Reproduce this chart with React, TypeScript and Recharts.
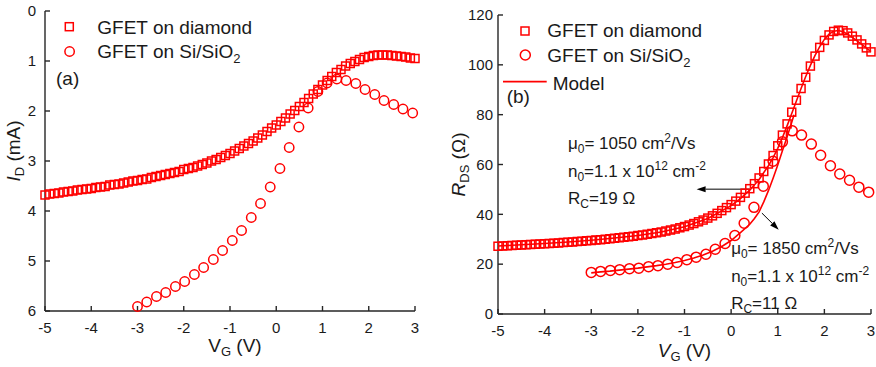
import React from 'react';
import { ScatterChart, Scatter, XAxis, YAxis, ReferenceLine, ReferenceDot, Legend } from 'recharts';

const RED = '#ff0000';
const AX = '#262626';
const TXT = '#1a1a1a';
const FONT = '"Liberation Sans", Arial, Helvetica, sans-serif';

// ---------- data ----------
const xTicks = [-5, -4, -3, -2, -1, 0, 1, 2, 3];
const idTicks = [0, 1, 2, 3, 4, 5, 6];
const rdsTicks = [0, 20, 40, 60, 80, 100, 120];

const seriesDiamond = 'GFET on diamond';
const seriesSi = 'GFET on Si/SiO';
const seriesModel = 'Model';

const vgDiamond = [
  -5.0, -4.9, -4.8, -4.7, -4.6, -4.5, -4.4, -4.3, -4.2, -4.1,
  -4.0, -3.9, -3.8, -3.7, -3.6, -3.5, -3.4, -3.3, -3.2, -3.1,
  -3.0, -2.9, -2.8, -2.7, -2.6, -2.5, -2.4, -2.3, -2.2, -2.1,
  -2.0, -1.9, -1.8, -1.7, -1.6, -1.5, -1.4, -1.3, -1.2, -1.1,
  -1.0, -0.9, -0.8, -0.7, -0.6, -0.5, -0.4, -0.3, -0.2, -0.1,
  0.0, 0.1, 0.2, 0.3, 0.4, 0.5, 0.6, 0.7, 0.8, 0.9,
  1.0, 1.1, 1.2, 1.3, 1.4, 1.5, 1.6, 1.7, 1.8, 1.9,
  2.0, 2.1, 2.2, 2.3, 2.4, 2.5, 2.6, 2.7, 2.8, 2.9, 3.0,
];

const idDiamond = [
  3.68, 3.66, 3.65, 3.64, 3.62, 3.61, 3.6, 3.58, 3.57, 3.56,
  3.55, 3.53, 3.52, 3.51, 3.48, 3.47, 3.46, 3.44, 3.42, 3.4,
  3.39, 3.37, 3.36, 3.33, 3.31, 3.29, 3.27, 3.25, 3.23, 3.21,
  3.17, 3.15, 3.13, 3.1, 3.07, 3.04, 3.0, 2.97, 2.93, 2.89,
  2.85, 2.8, 2.75, 2.7, 2.65, 2.6, 2.54, 2.48, 2.41, 2.34,
  2.28, 2.21, 2.14, 2.06, 1.99, 1.91, 1.83, 1.75, 1.66, 1.57,
  1.48, 1.39, 1.31, 1.23, 1.17, 1.1, 1.05, 1.01, 0.97, 0.93,
  0.91, 0.89, 0.88, 0.88, 0.88, 0.89, 0.9, 0.91, 0.92, 0.94, 0.95,
];

const rdsDiamond = [
  27.2, 27.3, 27.4, 27.5, 27.6, 27.7, 27.8, 27.9, 28.0, 28.1,
  28.2, 28.3, 28.4, 28.5, 28.7, 28.8, 28.9, 29.1, 29.2, 29.4,
  29.5, 29.7, 29.8, 30.0, 30.2, 30.4, 30.6, 30.8, 31.0, 31.2,
  31.5, 31.7, 32.0, 32.3, 32.6, 32.9, 33.3, 33.7, 34.1, 34.6,
  35.1, 35.7, 36.3, 37.0, 37.7, 38.5, 39.4, 40.4, 41.5, 42.7,
  43.9, 45.3, 46.8, 48.5, 50.3, 52.3, 54.6, 57.2, 60.2, 63.6,
  67.5, 71.8, 76.3, 81.0, 85.8, 90.5, 95.0, 99.5, 103.5, 107.0,
  109.8, 112.0, 113.4, 113.9, 113.7, 112.8, 111.5, 110.0, 108.4, 106.8, 105.2,
];

const vgSi = [
  -3.0, -2.8, -2.59, -2.39, -2.18, -1.98, -1.77, -1.57, -1.36, -1.16,
  -0.95, -0.75, -0.54, -0.34, -0.13, 0.08, 0.28, 0.49, 0.69, 0.9,
  1.1, 1.31, 1.51, 1.72, 1.92, 2.13, 2.33, 2.54, 2.74, 2.95,
];

const idSi = [
  5.91, 5.82, 5.71, 5.63, 5.51, 5.41, 5.27, 5.13, 4.97, 4.79,
  4.59, 4.39, 4.13, 3.85, 3.52, 3.15, 2.73, 2.32, 1.94, 1.61,
  1.44, 1.36, 1.39, 1.45, 1.57, 1.67, 1.79, 1.87, 1.96, 2.04,
];

const rdsSi = [
  16.7, 17.1, 17.5, 17.8, 18.2, 18.4, 19.0, 19.4, 20.0, 20.7,
  21.8, 22.8, 24.0, 26.0, 28.3, 31.5, 36.4, 42.8, 51.3, 61.3,
  69.1, 73.5, 71.8, 68.2, 63.7, 59.5, 56.2, 53.7, 50.9, 48.9,
];

const vgModelDiamond = [
  -5.0, -4.5, -4.0, -3.5, -3.0, -2.5, -2.0, -1.5, -1.0, -0.5,
  0.0, 0.2, 0.4, 0.6, 0.8, 0.9, 1.0, 1.1, 1.2, 1.3,
  1.4, 1.5, 1.6, 1.7, 1.8, 1.9, 2.0, 2.1, 2.2, 2.3,
  2.4, 2.5, 2.6, 2.8, 3.0,
];
const rdsModelDiamond = [
  27.3, 27.8, 28.3, 28.9, 29.6, 30.5, 31.5, 32.9, 35.0, 38.3,
  43.5, 46.3, 49.7, 54.0, 59.5, 62.8, 66.5, 70.8, 75.5, 80.5,
  85.5, 90.5, 95.3, 99.8, 103.8, 107.3, 110.2, 112.3, 113.5, 113.8,
  113.3, 112.3, 111.0, 108.2, 105.3,
];

const vgModelSi = [
  -3.0, -2.8, -2.6, -2.4, -2.2, -2.0, -1.8, -1.6, -1.4, -1.2,
  -1.0, -0.8, -0.6, -0.4, -0.2, 0.0, 0.2, 0.4, 0.5, 0.6,
  0.7, 0.8, 0.9, 1.0, 1.1, 1.2, 1.3, 1.35,
];
const rdsModelSi = [
  16.5, 16.9, 17.2, 17.6, 18.0, 18.4, 18.9, 19.4, 20.0, 20.7,
  21.5, 22.5, 23.7, 25.2, 27.1, 29.5, 32.7, 36.0, 38.3, 41.0,
  45.0, 49.5, 54.5, 59.8, 65.5, 71.0, 77.0, 80.0,
];

const zip = (xs: number[], ys: number[]) => xs.map((x, i) => ({ x, y: ys[i] }));
const dataA_d = zip(vgDiamond, idDiamond);
const dataA_s = zip(vgSi, idSi);
const dataB_d = zip(vgDiamond, rdsDiamond);
const dataB_s = zip(vgSi, rdsSi);
const dataB_md = zip(vgModelDiamond, rdsModelDiamond);
const dataB_ms = zip(vgModelSi, rdsModelSi);

// ---------- marks ----------
const SquareMark = (p: any) =>
  p.cx == null ? <g /> : (
    <rect x={p.cx - 4} y={p.cy - 4} width={8} height={8} fill="none" stroke={RED} strokeWidth={1.5} />
  );
const circleMark = (r: number) => (p: any) =>
  p.cx == null ? <g /> : <circle cx={p.cx} cy={p.cy} r={r} fill="none" stroke={RED} strokeWidth={1.5} />;
const NoMark = () => <g />;

const arrowShape = (p: any) => {
  const { x1, y1, x2, y2 } = p;
  if ([x1, y1, x2, y2].some((v) => v == null || isNaN(v))) return <g />;
  const a = Math.atan2(y2 - y1, x2 - x1);
  const L = 9;
  const W = 3;
  const bx = x2 - L * Math.cos(a);
  const by = y2 - L * Math.sin(a);
  const px = W * Math.sin(a);
  const py = -W * Math.cos(a);
  return (
    <g>
      <line x1={x1} y1={y1} x2={bx} y2={by} stroke="#000" strokeWidth={1} />
      <polygon points={`${x2},${y2} ${bx + px},${by + py} ${bx - px},${by - py}`} fill="#000" />
    </g>
  );
};

const tickStyle = { fill: TXT, fontSize: 15, fontFamily: FONT };
const axLine = { stroke: AX, strokeWidth: 1.4 };
const LEG_FS = 19;

// ---------- legends ----------
const LegendA = () => (
  <svg width={400} height={100} style={{ display: 'block', overflow: 'visible' }} fontFamily={FONT}>
    <rect x={65.3} y={22.7} width={8} height={8} fill="none" stroke={RED} strokeWidth={1.5} />
    <text x={97.3} y={34} fontSize={LEG_FS} fill={TXT}>{seriesDiamond}</text>
    <circle cx={69.6} cy={51.5} r={4.7} fill="none" stroke={RED} strokeWidth={1.5} />
    <text x={97.3} y={58.3} fontSize={LEG_FS} fill={TXT}>
      {seriesSi}
      <tspan dy={5} fontSize={13}>2</tspan>
    </text>
    <text x={56} y={85} fontSize={LEG_FS} fill={TXT}>(a)</text>
  </svg>
);

const LegendB = () => (
  <svg width={400} height={110} style={{ display: 'block', overflow: 'visible' }} fontFamily={FONT}>
    <rect x={81} y={27} width={8} height={8} fill="none" stroke={RED} strokeWidth={1.5} />
    <text x={107.3} y={37.3} fontSize={LEG_FS} fill={TXT}>{seriesDiamond}</text>
    <circle cx={85.3} cy={55} r={5} fill="none" stroke={RED} strokeWidth={1.5} />
    <text x={107.3} y={61.7} fontSize={LEG_FS} fill={TXT}>
      {seriesSi}
      <tspan dy={5} fontSize={13}>2</tspan>
    </text>
    <line x1={63} y1={81.7} x2={106.7} y2={81.7} stroke={RED} strokeWidth={1.8} />
    <text x={112.7} y={90} fontSize={LEG_FS} fill={TXT}>{seriesModel}</text>
    <text x={66.7} y={103} fontSize={LEG_FS} fill={TXT}>(b)</text>
  </svg>
);

// ---------- annotation blocks ----------
const AnnotBlock = ({ cx, cy, mu, rc }: any) => {
  if (cx == null || cy == null) return <g />;
  const fs = 17;
  const ss = 12;
  return (
    <g fontFamily={FONT} fontSize={fs} fill={TXT}>
      <text x={cx} y={cy}>
        μ<tspan dy={4} fontSize={ss}>0</tspan>
        <tspan dy={-4}>= {mu} cm</tspan>
        <tspan dy={-7} fontSize={ss}>2</tspan>
        <tspan dy={7}>/Vs</tspan>
      </text>
      <text x={cx} y={cy + 28}>
        n<tspan dy={4} fontSize={ss}>0</tspan>
        <tspan dy={-4}>=1.1 x 10</tspan>
        <tspan dy={-7} fontSize={ss}>12</tspan>
        <tspan dy={7}> cm</tspan>
        <tspan dy={-7} fontSize={ss}>-2</tspan>
      </text>
      <text x={cx} y={cy + 55}>
        R<tspan dy={4} fontSize={ss}>C</tspan>
        <tspan dy={-4}>={rc} Ω</tspan>
      </text>
    </g>
  );
};

// ---------- panels ----------
const PanelA = () => (
  <ScatterChart width={440} height={367} margin={{ top: 11, right: 25, bottom: 16, left: 0 }}>
    <XAxis
      type="number"
      dataKey="x"
      domain={[-5, 3]}
      ticks={xTicks}
      interval={0}
      height={40}
      tickSize={-5}
      tickMargin={16}
      tick={tickStyle}
      axisLine={axLine}
      tickLine={axLine}
      label={{
        content: (p: any) => {
          const vb = p.viewBox || {};
          return (
            <text x={vb.x + vb.width / 2 + 5} y={vb.y + 41} textAnchor="middle" fontSize={19} fontFamily={FONT} fill={TXT}>
              V<tspan dy={4} fontSize={13}>G</tspan>
              <tspan dy={-4}> (V)</tspan>
            </text>
          );
        },
      }}
    />
    <XAxis xAxisId="top" orientation="top" type="number" domain={[-5, 3]} ticks={xTicks} interval={0} height={0} tickSize={-5} tick={false} axisLine={axLine} tickLine={axLine} />
    <YAxis
      type="number"
      dataKey="y"
      domain={[0, 6]}
      reversed
      ticks={idTicks}
      interval={0}
      width={45}
      tickSize={-5}
      tickMargin={14}
      tick={tickStyle}
      axisLine={axLine}
      tickLine={axLine}
      label={{
        content: (p: any) => {
          const vb = p.viewBox || {};
          const x = vb.x + 20;
          const y = vb.y + vb.height / 2 - 10;
          return (
            <text x={x} y={y} transform={`rotate(-90, ${x}, ${y})`} textAnchor="middle" fontSize={19} fontFamily={FONT} fill={TXT}>
              <tspan fontStyle="italic">I</tspan>
              <tspan dy={4} fontSize={13}>D</tspan>
              <tspan dy={-4}> (mA)</tspan>
            </text>
          );
        },
      }}
    />
    <YAxis yAxisId="right" orientation="right" type="number" domain={[0, 6]} reversed ticks={idTicks} interval={0} width={0} tickSize={-5} tick={false} axisLine={axLine} tickLine={axLine} />
    <Scatter name={seriesDiamond} data={dataA_d} shape={SquareMark} fill="none" isAnimationActive={false} />
    <Scatter name={seriesSi} data={dataA_s} shape={circleMark(4.7)} fill="none" isAnimationActive={false} />
    <Legend
      layout="vertical"
      align="center"
      verticalAlign="middle"
      content={() => <LegendA />}
      wrapperStyle={{ left: 0, top: 0, width: 400, height: 100, pointerEvents: 'none' }}
    />
  </ScatterChart>
);

const PanelB = () => (
  <ScatterChart width={436} height={367} margin={{ top: 15, right: 5, bottom: 13, left: 0 }}>
    <XAxis
      type="number"
      dataKey="x"
      domain={[-5, 3]}
      ticks={xTicks}
      interval={0}
      height={40}
      tickSize={-5}
      tickMargin={16}
      tick={tickStyle}
      axisLine={axLine}
      tickLine={axLine}
      label={{
        content: (p: any) => {
          const vb = p.viewBox || {};
          return (
            <text x={vb.x + vb.width / 2} y={vb.y + 43} textAnchor="middle" fontSize={19} fontFamily={FONT} fill={TXT}>
              <tspan fontStyle="italic">V</tspan>
              <tspan dy={4} fontSize={13}>G</tspan>
              <tspan dy={-4}> (V)</tspan>
            </text>
          );
        },
      }}
    />
    <XAxis xAxisId="top" orientation="top" type="number" domain={[-5, 3]} ticks={xTicks} interval={0} height={0} tickSize={-5} tick={false} axisLine={axLine} tickLine={axLine} />
    <YAxis
      type="number"
      dataKey="y"
      domain={[0, 120]}
      ticks={rdsTicks}
      interval={0}
      width={58}
      tickSize={-5}
      tickMargin={10}
      tick={tickStyle}
      axisLine={axLine}
      tickLine={axLine}
      label={{
        content: (p: any) => {
          const vb = p.viewBox || {};
          const x = vb.x + 25;
          const y = vb.y + vb.height / 2;
          return (
            <text x={x} y={y} transform={`rotate(-90, ${x}, ${y})`} textAnchor="middle" fontSize={19} fontFamily={FONT} fill={TXT}>
              <tspan fontStyle="italic">R</tspan>
              <tspan dy={4} fontSize={13}>DS</tspan>
              <tspan dy={-4}> (Ω)</tspan>
            </text>
          );
        },
      }}
    />
    <YAxis yAxisId="right" orientation="right" type="number" domain={[0, 120]} ticks={rdsTicks} interval={0} width={0} tickSize={-5} tick={false} axisLine={axLine} tickLine={axLine} />
    <Scatter name={seriesDiamond} data={dataB_d} shape={SquareMark} fill="none" isAnimationActive={false} />
    <Scatter name={seriesSi} data={dataB_s} shape={circleMark(5)} fill="none" isAnimationActive={false} />
    <Scatter name={seriesModel} data={dataB_md} shape={NoMark} fill="none" line={{ stroke: RED, strokeWidth: 1.6 }} isAnimationActive={false} />
    <Scatter name={seriesModel + ' Si'} data={dataB_ms} shape={NoMark} fill="none" line={{ stroke: RED, strokeWidth: 1.6 }} isAnimationActive={false} />
    <ReferenceLine segment={[{ x: 0.41, y: 50.1 }, { x: -0.74, y: 50.1 }]} shape={arrowShape} ifOverflow="visible" />
    <ReferenceLine segment={[{ x: 0.66, y: 40.5 }, { x: 1.02, y: 33.8 }]} shape={arrowShape} ifOverflow="visible" />
    <ReferenceDot x={-3.5} y={66.2} r={0} ifOverflow="visible" shape={(p: any) => <AnnotBlock cx={p.cx} cy={p.cy} mu="1050" rc="19" />} />
    <ReferenceDot x={0.0} y={24.2} r={0} ifOverflow="visible" shape={(p: any) => <AnnotBlock cx={p.cx} cy={p.cy} mu="1850" rc="11" />} />
    <Legend
      layout="vertical"
      align="center"
      verticalAlign="middle"
      content={() => <LegendB />}
      wrapperStyle={{ left: 0, top: 0, width: 400, height: 110, pointerEvents: 'none' }}
    />
  </ScatterChart>
);

export default function App() {
  return (
    <div style={{ position: 'absolute', left: 0, top: 0, width: 876, height: 367, background: '#fff', fontFamily: FONT, overflow: 'hidden' }}>
      <div style={{ position: 'absolute', left: 0, top: 0 }}>
        <PanelA />
      </div>
      <div style={{ position: 'absolute', left: 440, top: 0 }}>
        <PanelB />
      </div>
    </div>
  );
}
